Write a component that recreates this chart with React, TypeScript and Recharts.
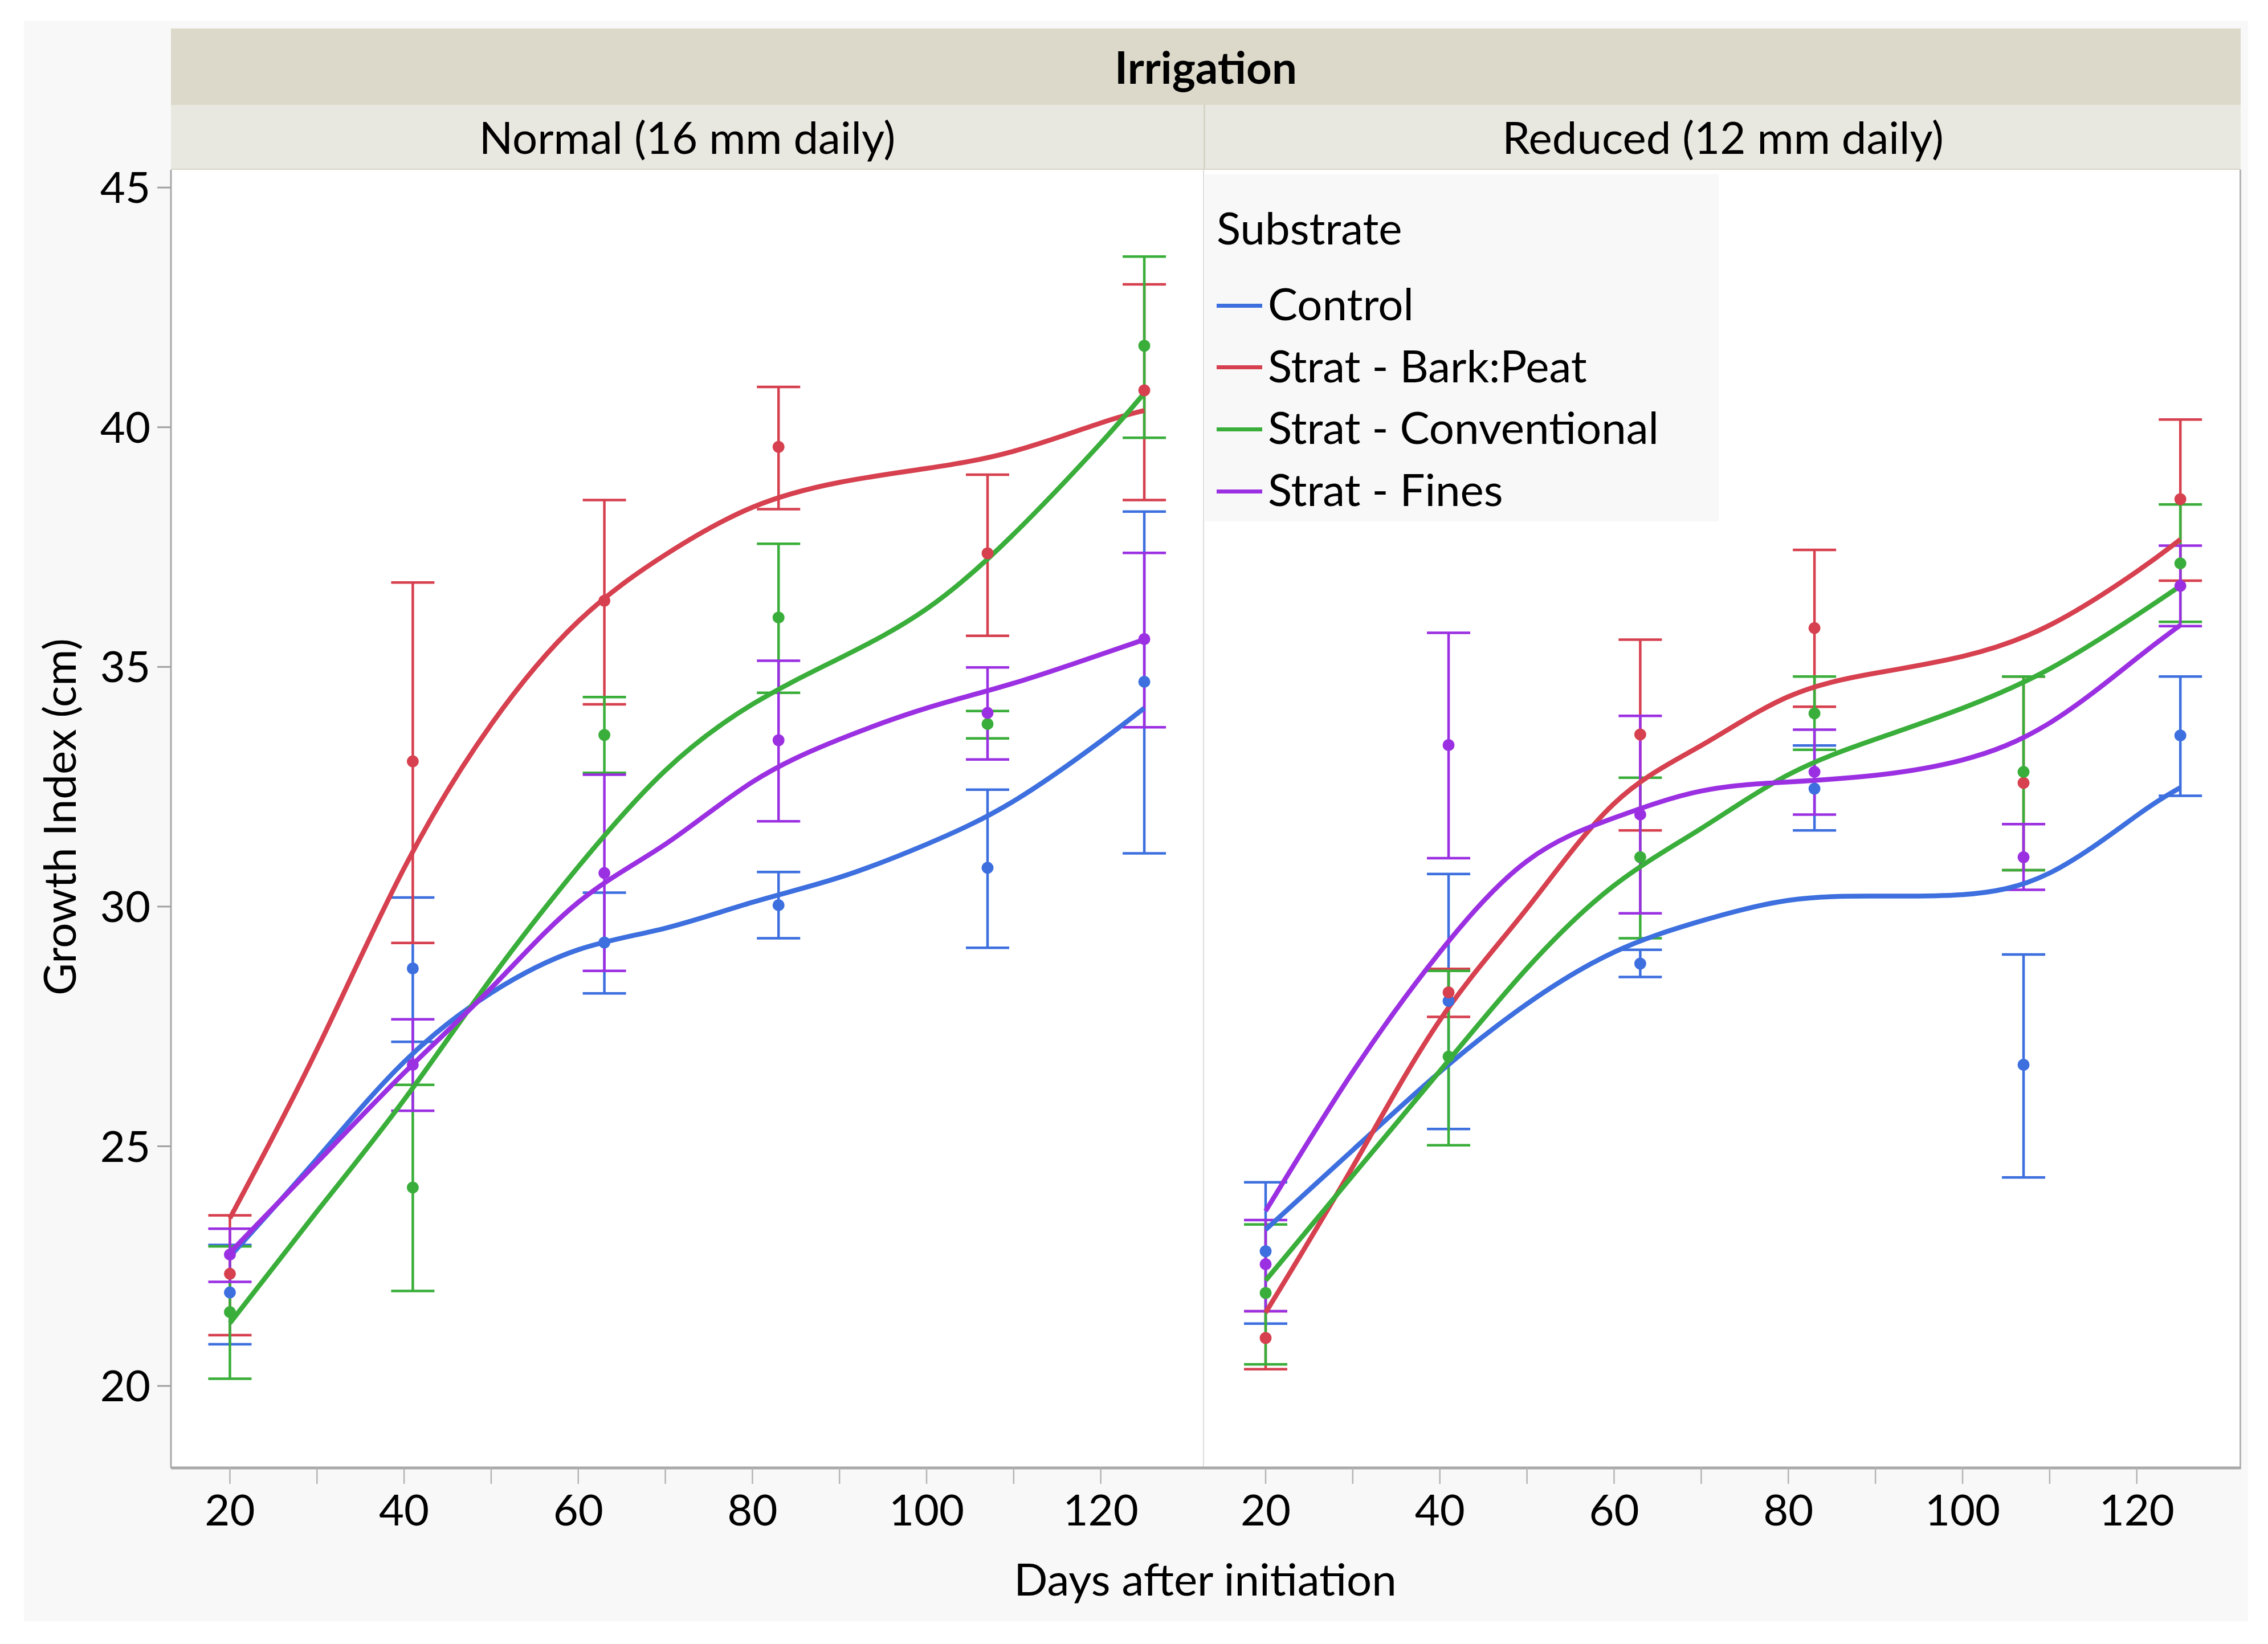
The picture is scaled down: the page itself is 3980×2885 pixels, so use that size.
import React from 'react';
import { ComposedChart, Line, Scatter, ErrorBar, XAxis, YAxis } from 'recharts';

// ---------- data ----------
const substrates = ['Control', 'Strat - Bark:Peat', 'Strat - Conventional', 'Strat - Fines'];
const seriesColors = ['#3d6fdf', '#d6404f', '#3aae3a', '#9b30e2'];
const panelTitles = ['Normal (16 mm daily)', 'Reduced (12 mm daily)'];
const headerTitle = 'Irrigation';
const legendTitle = 'Substrate';
const xTitle = 'Days after initiation';
const yTitle = 'Growth Index (cm)';

const sampleDays = [20, 41, 63, 83, 107, 125];
const curveDays = [20, 30, 40, 50, 60, 70, 80, 90, 100, 110, 120, 125];
const xTicks = [20, 30, 40, 50, 60, 70, 80, 90, 100, 110, 120];
const yTicks = [20, 25, 30, 35, 40, 45];

// Normal irrigation: rows = Control, Bark:Peat, Conventional, Fines
const normalMean = [
  [21.95, 28.71, 29.25, 30.03, 30.81, 34.69],
  [22.34, 33.03, 36.38, 39.59, 37.37, 40.77],
  [21.54, 24.14, 33.58, 36.03, 33.81, 41.7],
  [22.74, 26.7, 30.7, 33.47, 34.04, 35.58],
];
const normalLow = [
  [20.87, 27.18, 28.19, 29.34, 29.14, 31.11],
  [21.06, 29.24, 34.22, 38.29, 35.65, 38.48],
  [20.15, 21.98, 32.79, 34.46, 33.51, 39.78],
  [22.17, 25.74, 28.66, 31.78, 33.07, 33.74],
];
const normalHigh = [
  [22.94, 30.19, 30.29, 30.72, 32.44, 38.24],
  [23.56, 36.76, 38.48, 40.84, 39.01, 42.98],
  [22.91, 26.28, 34.37, 37.57, 34.08, 43.56],
  [23.28, 27.65, 32.75, 35.13, 34.99, 37.38],
];
const normalCurve = [
  [22.7, 24.74, 26.76, 28.2, 29.1, 29.55, 30.09, 30.61, 31.3, 32.2, 33.45, 34.14],
  [23.5, 27.02, 30.8, 33.8, 35.95, 37.34, 38.33, 38.85, 39.14, 39.5, 40.09, 40.35],
  [21.31, 23.64, 25.97, 28.5, 30.83, 32.84, 34.22, 35.18, 36.21, 37.77, 39.67, 40.71],
  [22.78, 24.66, 26.53, 28.3, 30.09, 31.3, 32.6, 33.49, 34.14, 34.66, 35.26, 35.57],
];

// Reduced irrigation
const reducedMean = [
  [22.81, 28.03, 28.81, 32.46, 26.7, 33.57],
  [21.0, 28.21, 33.59, 35.81, 32.58, 38.5],
  [21.94, 26.87, 31.03, 34.03, 32.81, 37.16],
  [22.54, 33.37, 31.92, 32.81, 31.03, 36.69],
];
const reducedLow = [
  [21.3, 25.36, 28.53, 31.59, 24.35, 32.31],
  [20.35, 27.7, 31.59, 34.17, 30.76, 36.8],
  [20.45, 25.02, 29.34, 33.27, 30.76, 35.94],
  [21.56, 31.01, 29.86, 31.92, 30.35, 35.85],
];
const reducedHigh = [
  [24.25, 30.68, 29.1, 33.36, 29.0, 34.8],
  [21.56, 28.7, 35.57, 37.44, 34.8, 40.16],
  [23.37, 28.66, 32.69, 34.8, 34.8, 38.39],
  [23.46, 35.71, 33.98, 33.69, 31.72, 37.53],
];
const reducedCurve = [
  [23.26, 24.92, 26.55, 27.97, 29.05, 29.7, 30.13, 30.22, 30.25, 30.7, 31.9, 32.48],
  [21.53, 24.57, 27.63, 29.96, 32.15, 33.36, 34.38, 34.87, 35.22, 35.87, 36.99, 37.66],
  [22.2, 24.39, 26.57, 28.71, 30.44, 31.63, 32.75, 33.49, 34.14, 34.96, 36.08, 36.69],
  [23.65, 26.55, 29.05, 30.95, 31.85, 32.41, 32.6, 32.74, 33.06, 33.83, 35.18, 35.87],
];

// ---------- helpers ----------
const FONT = 'Lato, "Open Sans", sans-serif';
const FS = 78; // titles, headers, legend
const TICK_FS = 76;
const TOP_PAD = 60; // room above the plot so the top tick label is not clipped

const buildPoints = (mean: number[], low: number[], high: number[]) =>
  sampleDays.map((d, i) => ({ x: d, y: mean[i], err: [mean[i] - low[i], high[i] - mean[i]] }));
const buildCurve = (vals: number[]) => curveDays.map((d, i) => ({ x: d, y: vals[i] }));

const makeDot = (color: string) => (props: any) => {
  const { cx, cy } = props;
  if (cx == null || cy == null) return <g />;
  return <circle cx={cx} cy={cy} r={10.5} fill={color} />;
};

type PanelProps = {
  means: number[][];
  lows: number[][];
  highs: number[][];
  curves: number[][];
  xDomain: [number, number];
  left: number;
  width: number;
  showY: boolean;
};

const Y_DOMAIN: [number, number] = [18.29, 45.37];

function Panel({ means, lows, highs, curves, xDomain, left, width, showY }: PanelProps) {
  return (
    <div style={{ position: 'absolute', left, top: 298 - TOP_PAD }}>
      <ComposedChart width={width} height={2428 + TOP_PAD} margin={{ top: TOP_PAD, right: 0, bottom: 0, left: 0 }}>
        <XAxis
          type="number"
          dataKey="x"
          domain={xDomain}
          allowDataOverflow
          ticks={xTicks}
          interval={0}
          height={150}
          tickFormatter={(v: number) => (v % 20 === 0 ? String(v) : '')}
          tick={{ fontSize: TICK_FS, fill: '#000', fontFamily: FONT }}
          tickSize={28}
          tickMargin={19}
          axisLine={{ stroke: '#a9a9a9', strokeWidth: 5 }}
          tickLine={{ stroke: '#b4b4b4', strokeWidth: 2.5 }}
        />
        <YAxis
          type="number"
          dataKey="y"
          domain={Y_DOMAIN}
          allowDataOverflow
          ticks={yTicks}
          interval={0}
          hide={!showY}
          width={300}
          tick={{ fontSize: TICK_FS, fill: '#000', fontFamily: FONT }}
          tickSize={24}
          tickMargin={12}
          axisLine={{ stroke: '#a9a9a9', strokeWidth: 3 }}
          tickLine={{ stroke: '#a0a0a0', strokeWidth: 3 }}
        />
        {substrates.map((name, s) => (
          <Scatter
            key={'pts' + s}
            name={name}
            data={buildPoints(means[s], lows[s], highs[s])}
            dataKey="y"
            fill={seriesColors[s]}
            shape={makeDot(seriesColors[s])}
            isAnimationActive={false}
          >
            <ErrorBar
              dataKey="err"
              direction="y"
              width={38}
              stroke={seriesColors[s]}
              strokeWidth={4.5}
              isAnimationActive={false}
            />
          </Scatter>
        ))}
        {substrates.map((name, s) => (
          <Line
            key={'curve' + s}
            name={name}
            data={buildCurve(curves[s])}
            dataKey="y"
            type="natural"
            stroke={seriesColors[s]}
            strokeWidth={8.5}
            dot={false}
            activeDot={false}
            isAnimationActive={false}
          />
        ))}
      </ComposedChart>
    </div>
  );
}

const abs = (l: number, t: number, w: number, h: number, extra: React.CSSProperties = {}): React.CSSProperties => ({
  position: 'absolute',
  left: l,
  top: t,
  width: w,
  height: h,
  ...extra,
});

const centerText: React.CSSProperties = {
  display: 'flex',
  alignItems: 'center',
  justifyContent: 'center',
  fontFamily: FONT,
  fontSize: FS,
  color: '#000',
  whiteSpace: 'nowrap',
};

const legendRow: React.CSSProperties = {
  position: 'absolute',
  left: 21,
  height: 100,
  display: 'flex',
  alignItems: 'center',
  fontFamily: FONT,
  fontSize: FS,
  whiteSpace: 'nowrap',
};

export default function App() {
  return (
    <div style={{ position: 'absolute', left: 0, top: 0, width: 3980, height: 2885, background: '#fff', overflow: 'hidden' }}>
      {/* outer light-gray frame */}
      <div style={abs(42, 37, 3903, 2808, { background: '#f8f8f8' })} />
      {/* plot background */}
      <div style={abs(300, 298, 3632, 2278, { background: '#fff' })} />
      {/* header strips */}
      <div style={abs(300, 50, 3632, 134, { ...centerText, background: '#dcd9ca', fontWeight: 700 })}>{headerTitle}</div>
      <div style={abs(300, 184, 1812, 114, { ...centerText, background: '#e9e8e0', borderBottom: '2px solid #d6d4c8', boxSizing: 'border-box' })}>
        {panelTitles[0]}
      </div>
      <div style={abs(2112, 184, 1820, 114, { ...centerText, background: '#e9e8e0', borderBottom: '2px solid #d6d4c8', borderLeft: '3px solid #d6d4c8', boxSizing: 'border-box' })}>
        {panelTitles[1]}
      </div>
      {/* panel divider and right border */}
      <div style={abs(2111, 298, 2, 2278, { background: '#dcdcdc' })} />
      <div style={abs(3930, 298, 3, 2280, { background: '#b4b4b4' })} />

      <Panel
        means={normalMean}
        lows={normalLow}
        highs={normalHigh}
        curves={normalCurve}
        xDomain={[13.23, 131.8]}
        left={0}
        width={2112}
        showY
      />
      <Panel
        means={reducedMean}
        lows={reducedLow}
        highs={reducedHigh}
        curves={reducedCurve}
        xDomain={[12.87, 131.92]}
        left={2112}
        width={1820}
        showY={false}
      />

      {/* legend */}
      <div style={abs(2114, 306, 902, 609, { background: '#f8f8f8' })}>
        <div style={{ ...legendRow, top: 93 - 50 }}>{legendTitle}</div>
        {substrates.map((name, s) => (
          <div key={name} style={{ ...legendRow, top: 226 + s * 108.7 - 50 }}>
            <span style={{ display: 'inline-block', width: 80, height: 7, background: seriesColors[s], marginRight: 10, marginTop: 8 }} />
            {name}
          </div>
        ))}
      </div>

      {/* axis titles */}
      <div style={abs(1115, 2720, 2000, 100, centerText)}>{xTitle}</div>
      <div
        style={abs(53, 834, 100, 1200, {
          ...centerText,
          writingMode: 'vertical-rl',
          transform: 'rotate(180deg)',
        })}
      >
        {yTitle}
      </div>
    </div>
  );
}
